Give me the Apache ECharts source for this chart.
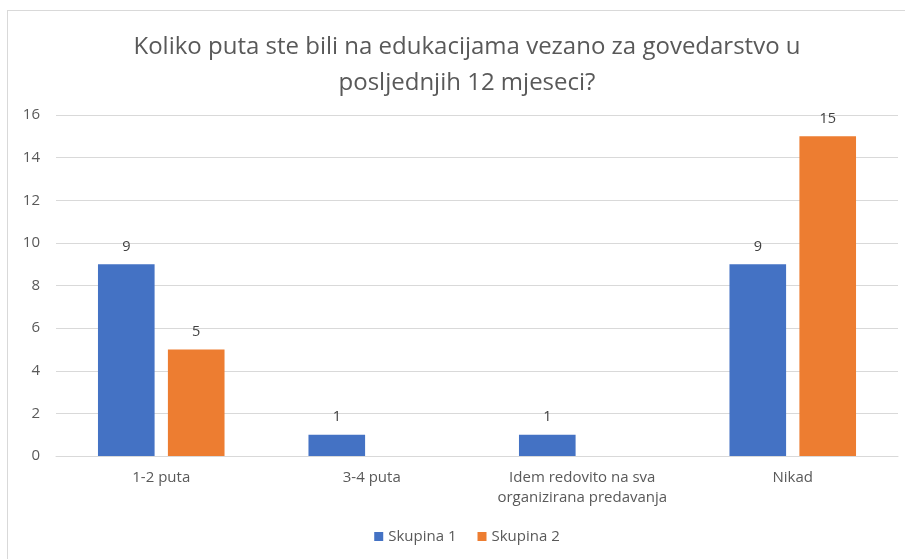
<!DOCTYPE html>
<html>
<head>
<meta charset="utf-8">
<script src="https://cdn.jsdelivr.net/npm/echarts@6/dist/echarts.min.js"></script>
<style>
  html, body { margin: 0; padding: 0; background: #fff; overflow: hidden; width: 905px; height: 559px; }
  #frame {
    position: absolute; left: 7px; top: 10px; width: 920px; height: 560px;
    border: 1px solid #d9d9d9; box-sizing: border-box;
  }
  #chart { position: absolute; left: 7px; top: 0; width: 920px; height: 559px; }
</style>
</head>
<body>
<div id="frame"></div>
<div id="chart"></div>
<script>
/* 数据 */
const categories = ['1-2 puta', '3-4 puta', 'Idem redovito na sva\norganizirana predavanja', 'Nikad'];
const skupina1 = [9, 1, 1, 9];
const skupina2 = [5, null, null, 15];
const titleText = 'Koliko puta ste bili na edukacijama vezano za govedarstvo u\nposljednjih 12 mjeseci?';

const font = '"Open Sans", "Noto Sans", sans-serif';

const myChart = echarts.init(document.getElementById('chart'));

function barSeries(name, data, color) {
  return {
    name: name,
    type: 'bar',
    data: data,
    barWidth: '26.9%',
    barGap: '23.5%',
    itemStyle: { color: color },
    label: {
      show: true,
      position: 'top',
      distance: 10,
      color: '#404040',
      fontSize: 14.5,
      fontFamily: font
    }
  };
}

const option = {
  animation: false,
  title: {
    text: titleText,
    left: 'center',
    top: 24,
    textStyle: {
      color: '#595959',
      fontSize: 24,
      fontWeight: 'normal',
      fontFamily: font,
      lineHeight: 36
    }
  },
  legend: {
    bottom: 10,
    left: 'center',
    itemWidth: 9,
    itemHeight: 9,
    itemGap: 21,
    icon: 'rect',
    textStyle: { color: '#595959', fontSize: 15, fontFamily: font },
    data: ['Skupina 1', 'Skupina 2']
  },
  grid: {
    left: 49,
    right: 29,
    top: 115,
    bottom: 103
  },
  xAxis: {
    type: 'category',
    data: categories,
    axisTick: { show: false },
    axisLine: { lineStyle: { color: '#d9d9d9', width: 1 } },
    axisLabel: {
      interval: 0,
      color: '#595959',
      fontSize: 15,
      fontFamily: font,
      margin: 12,
      lineHeight: 20
    }
  },
  yAxis: {
    type: 'value',
    min: 0,
    max: 16,
    interval: 2,
    axisLine: { show: false },
    axisTick: { show: false },
    splitLine: { lineStyle: { color: '#d9d9d9', width: 1 } },
    axisLabel: {
      color: '#595959',
      fontSize: 15,
      fontFamily: font,
      margin: 16
    }
  },
  series: [
    barSeries('Skupina 1', skupina1, '#4472c4'),
    barSeries('Skupina 2', skupina2, '#ed7d31')
  ]
};

option && myChart.setOption(option);
</script>
</body>
</html>
